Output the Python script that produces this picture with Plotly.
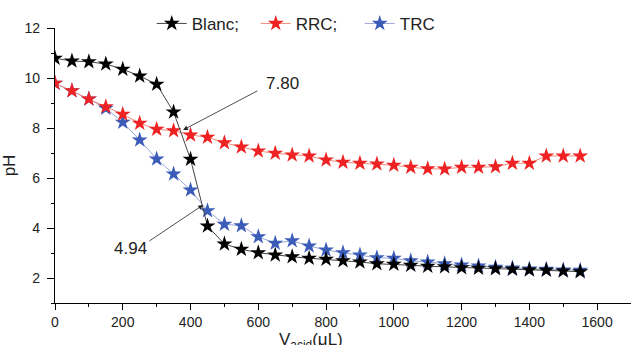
import plotly.graph_objects as go

v_acid = [0, 50, 100, 150, 200, 250, 300, 350, 400, 450, 500, 550, 600, 650, 700, 750,
          800, 850, 900, 950, 1000, 1050, 1100, 1150, 1200, 1250, 1300, 1350, 1400, 1450, 1500, 1550]
ph_blanc = [10.79, 10.68, 10.65, 10.56, 10.35, 10.08, 9.75, 8.64, 6.75, 4.08, 3.36, 3.15, 3.01, 2.92, 2.85, 2.79,
            2.75, 2.69, 2.64, 2.57, 2.55, 2.51, 2.47, 2.45, 2.41, 2.39, 2.37, 2.35, 2.32, 2.31, 2.28, 2.25]
ph_rrc = [9.79, 9.49, 9.16, 8.85, 8.55, 8.19, 7.95, 7.89, 7.72, 7.63, 7.41, 7.24, 7.08, 6.99, 6.92, 6.88,
          6.72, 6.63, 6.59, 6.56, 6.51, 6.43, 6.37, 6.36, 6.43, 6.43, 6.45, 6.59, 6.59, 6.88, 6.88, 6.88]
ph_trc = [9.79, 9.49, 9.16, 8.79, 8.23, 7.52, 6.76, 6.16, 5.52, 4.69, 4.15, 4.09, 3.65, 3.39, 3.49, 3.28,
          3.12, 3.01, 2.92, 2.81, 2.79, 2.69, 2.64, 2.57, 2.52, 2.48, 2.43, 2.40, 2.36, 2.35, 2.32, 2.31]

x_ticks = [0, 200, 400, 600, 800, 1000, 1200, 1400, 1600]
y_ticks = [2, 4, 6, 8, 10, 12]

fig = go.Figure()
fig.add_trace(go.Scatter(x=v_acid, y=ph_trc, name="TRC", mode="lines+markers",
                         line=dict(color="#9aa8d8", width=1),
                         marker=dict(symbol="star", size=12, color="#3b5cb8", line=dict(width=0))))
fig.add_trace(go.Scatter(x=v_acid, y=ph_rrc, name="RRC;", mode="lines+markers",
                         line=dict(color="#f08a7a", width=1),
                         marker=dict(symbol="star", size=12, color="#ee2222", line=dict(width=0))))
fig.add_trace(go.Scatter(x=v_acid, y=ph_blanc, name="Blanc;", mode="lines+markers",
                         line=dict(color="#444444", width=1),
                         marker=dict(symbol="star", size=12, color="black", line=dict(width=0))))

font = dict(family="Liberation Sans, Arial, sans-serif", color="#222")

fig.add_annotation(x=378, y=7.92, ax=602, ay=9.52, xref="x", yref="y", axref="x", ayref="y",
                   text="", showarrow=True, arrowhead=2, arrowsize=1.2, arrowwidth=0.8, arrowcolor="#222")
fig.add_annotation(x=672, y=9.8, xref="x", yref="y", text="7.80", showarrow=False,
                   font=dict(size=17, **font))
fig.add_annotation(x=437, y=4.92, ax=274, ay=3.44, xref="x", yref="y", axref="x", ayref="y",
                   text="", showarrow=True, arrowhead=2, arrowsize=1.2, arrowwidth=0.8, arrowcolor="#222")
fig.add_annotation(x=222, y=3.2, xref="x", yref="y", text="4.94", showarrow=False,
                   font=dict(size=17, **font))
# x-axis title (placed like the reference, partly below the page edge)
fig.add_annotation(x=755, y=-0.09, xref="x", yref="paper", yanchor="top",
                   text="V<sub>acid</sub>(μL)", showarrow=False, font=dict(size=17, **font))

fig.update_layout(
    width=631, height=345,
    margin=dict(l=55, r=0, t=28, b=42, autoexpand=False),
    paper_bgcolor="white", plot_bgcolor="white",
    font=font,
    legend=dict(orientation="h", x=0.168, xanchor="left", y=1.015, yanchor="middle",
                entrywidth=59, entrywidthmode="pixels",
                traceorder="reversed", font=dict(size=17, **font), bgcolor="rgba(0,0,0,0)"),
    xaxis=dict(range=[0, 1700], tickvals=x_ticks, showgrid=False, zeroline=False, automargin=False,
               showline=True, linecolor="black", linewidth=1.2, ticks="outside", ticklen=6,
               tickcolor="black", tickfont=dict(size=14, **font),
               minor=dict(dtick=100, ticks="outside", ticklen=3, tickcolor="black")),
    yaxis=dict(range=[1, 12], tickvals=y_ticks, showgrid=False, zeroline=False, automargin=False,
               showline=True, linecolor="black", linewidth=1.2, ticks="outside", ticklen=7,
               tickcolor="black", tickfont=dict(size=14, **font), ticklabelstandoff=4,
               minor=dict(dtick=1, ticks="outside", ticklen=3, tickcolor="black"),
               title=dict(text="pH", font=dict(size=17, **font), standoff=4)),
)

fig.write_html("out.html")
